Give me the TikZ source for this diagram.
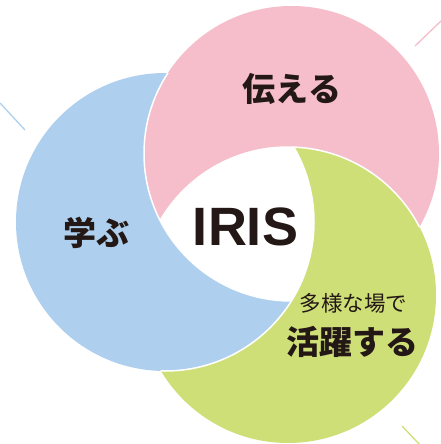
\documentclass[tikz,border=0pt]{standalone}
\usepackage{fontspec}
\newfontfamily\cjk{Noto Sans CJK JP}
\newfontfamily\lat{Liberation Sans}
\definecolor{cpink}{RGB}{245,190,202}
\definecolor{cblue}{RGB}{174,208,238}
\definecolor{cgreen}{RGB}{207,223,120}
\definecolor{ink}{RGB}{35,24,21}
\begin{document}
\begin{tikzpicture}[x=1pt,y=-1pt,
  sep/.style={white,line width=1.5pt},
  deco/.style={line width=1.3pt},
  lbl/.style={text=ink,inner sep=0pt}]
\useasboundingbox (0,0) rectangle (440,444);
\def\rP{147.5}\def\rB{149}\def\rG{148}
\coordinate (P) at (291.5,153.5);
\coordinate (B) at (165,222);
\coordinate (G) at (288,295);
% crescents: circle A minus circle B
\begin{scope}\clip (P) circle (\rP);
  \fill[cpink,even odd rule] (-20,-20) rectangle (460,464) (G) circle (\rG);
\end{scope}
\begin{scope}\clip (B) circle (\rB);
  \fill[cblue,even odd rule] (-20,-20) rectangle (460,464) (P) circle (\rP);
\end{scope}
\begin{scope}\clip (G) circle (\rG);
  \fill[cgreen,even odd rule] (-20,-20) rectangle (460,464) (B) circle (\rB);
\end{scope}
% white separators
\begin{scope}\clip (B) circle (\rB); \draw[sep] (P) circle (\rP); \end{scope}
\begin{scope}\clip (P) circle (\rP); \draw[sep] (G) circle (\rG); \end{scope}
\begin{scope}\clip (G) circle (\rG); \draw[sep] (B) circle (\rB); \end{scope}
% decorative strokes
\coordinate (b1) at (0,103); \coordinate (b2) at (25,130);
\coordinate (p1) at (415,46); \coordinate (p2) at (442,20);
\coordinate (g1) at (402,426); \coordinate (g2) at (421,446);
\draw[deco,cblue] (b1) -- (b2);
\draw[deco,cpink] (p1) -- (p2);
\draw[deco,cgreen] (g1) -- (g2);
% labels
\node[lbl,font=\cjk\bfseries\fontsize{33}{33}\selectfont] (tsutaeru) at (292,89) {伝える};
\node[lbl,font=\cjk\bfseries\fontsize{33}{33}\selectfont] (manabu) at (96,233) {学ぶ};
\node[lbl,font=\lat\bfseries\fontsize{54}{54}\selectfont] (iris) at (245.5,227) {IRIS};
\node[lbl,font=\cjk\fontsize{21.5}{21.5}\selectfont] (tayou) at (353.5,303) {多様な場で};
\node[lbl,font=\cjk\bfseries\fontsize{33}{33}\selectfont] (katsuyaku) at (352.5,342) {活躍する};
\end{tikzpicture}
\end{document}
